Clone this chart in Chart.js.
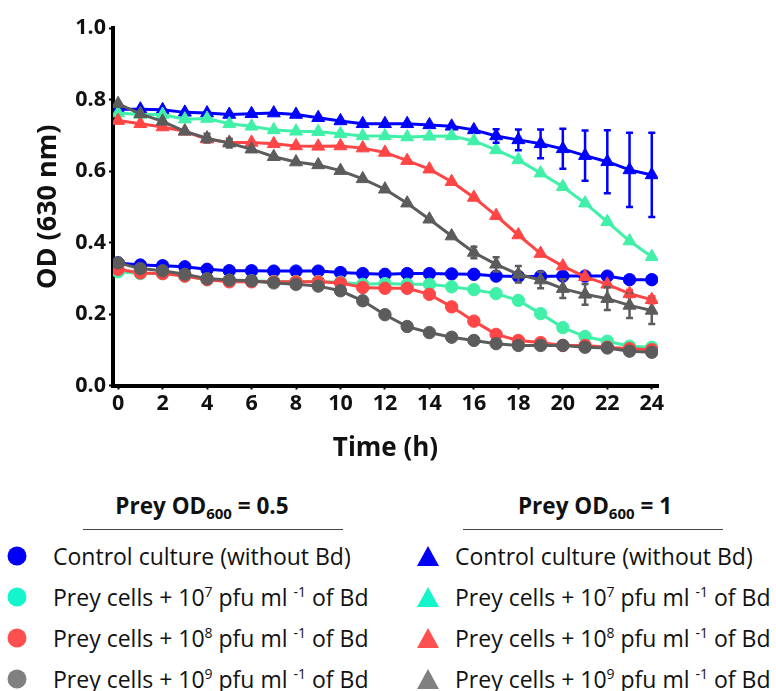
<!DOCTYPE html>
<html>
<head>
<meta charset="utf-8">
<script src="https://cdn.jsdelivr.net/npm/chart.js@4.4.1/dist/chart.umd.min.js"></script>
<style>
  html, body { margin: 0; padding: 0; background: #fff; }
  body { width: 776px; height: 691px; overflow: hidden; position: relative; font-family: "Open Sans", sans-serif; color: #111; }
  #wrap { position: absolute; left: 0; top: 0; width: 776px; height: 470px; }
  .head { position: absolute; font-weight: bold; font-size: 22.5px; white-space: nowrap; transform: translateX(-50%); line-height: 26px; }
  .head sub { font-size: 15px; vertical-align: -5px; line-height: 0; }
  .rule { position: absolute; height: 1px; background: #444; }
  .item { position: absolute; font-size: 23px; white-space: nowrap; line-height: 26px; transform: translateY(-50%); }
  .item sup { font-size: 14px; vertical-align: 9px; line-height: 0; }
  .dot { position: absolute; width: 19px; height: 19px; border-radius: 50%; transform: translate(-50%, -50%); }
  .tri { position: absolute; width: 0; height: 0; border-left: 11.5px solid transparent; border-right: 11.5px solid transparent; border-bottom: 20px solid #000; transform: translate(-50%, -50%); }
</style>
</head>
<body>
<div id="wrap"><canvas id="chart" width="776" height="470"></canvas></div>
<div id="legend"></div>
<script>
// Sampling times (h)
const hours = [0,1,2,3,4,5,6,7,8,9,10,11,12,13,14,15,16,17,18,19,20,21,22,23,24];
const xTicks = [0,2,4,6,8,10,12,14,16,18,20,22,24];
const yTicks = [0.0,0.2,0.4,0.6,0.8,1.0];

// Prey OD600 = 1 (triangles)
const hiControl = [0.773,0.773,0.771,0.764,0.762,0.758,0.760,0.762,0.758,0.749,0.740,0.732,0.732,0.732,0.729,0.725,0.715,0.698,0.687,0.676,0.662,0.643,0.626,0.603,0.589];
const hiControlErr = [0,0,0,0,0,0,0,0,0,0,0,0,0,0,0,0,0,0.019,0.029,0.040,0.056,0.070,0.088,0.104,0.118];
const hiBd7 = [0.762,0.758,0.758,0.745,0.747,0.732,0.725,0.715,0.711,0.710,0.704,0.698,0.698,0.695,0.697,0.698,0.684,0.659,0.631,0.594,0.556,0.510,0.458,0.404,0.360];
const hiBd8 = [0.741,0.732,0.723,0.711,0.689,0.680,0.680,0.676,0.670,0.669,0.670,0.664,0.652,0.629,0.605,0.570,0.526,0.475,0.421,0.369,0.334,0.304,0.283,0.257,0.240];
const hiBd8Err = [0,0,0,0,0,0,0,0,0,0,0,0,0,0,0,0,0,0,0,0,0,0,0,0.010,0.010];
const hiBd9 = [0.788,0.760,0.739,0.711,0.692,0.678,0.661,0.640,0.625,0.617,0.601,0.578,0.549,0.510,0.465,0.418,0.372,0.339,0.311,0.295,0.271,0.255,0.243,0.224,0.210];
const hiBd9Err = [0,0,0,0,0.012,0.012,0,0,0,0,0,0,0,0,0,0,0.016,0.020,0.023,0.023,0.026,0.029,0.032,0.035,0.038];

// Prey OD600 = 0.5 (circles)
const loControl = [0.343,0.337,0.335,0.332,0.325,0.321,0.321,0.320,0.320,0.320,0.316,0.313,0.311,0.313,0.313,0.312,0.311,0.306,0.305,0.305,0.306,0.306,0.306,0.296,0.296];
const loBd7 = [0.318,0.313,0.313,0.306,0.296,0.293,0.293,0.291,0.291,0.291,0.289,0.283,0.285,0.283,0.283,0.276,0.268,0.257,0.238,0.201,0.162,0.137,0.124,0.110,0.107];
const loBd8 = [0.325,0.315,0.313,0.306,0.296,0.290,0.290,0.290,0.290,0.290,0.287,0.274,0.272,0.272,0.255,0.220,0.180,0.143,0.126,0.120,0.112,0.112,0.107,0.103,0.100];
const loBd9 = [0.343,0.327,0.321,0.311,0.299,0.295,0.293,0.287,0.283,0.278,0.265,0.237,0.198,0.165,0.148,0.135,0.126,0.117,0.112,0.112,0.112,0.107,0.105,0.096,0.093];
const loBd9Err = [0,0,0,0,0,0,0,0,0,0,0,0,0,0,0,0,0,0,0,0,0,0,0,0.010,0.012];

// Series colours (plot and key)
const lineColors = ['#0000ff', '#40f0a8', '#ff4545', '#5c5c5c'];
const keyColors  = ['#0000f4', '#14f5cc', '#ff5050', '#808080'];

const seriesNames = ['Control culture (without Bd)', 'Prey cells + 10', 'Prey cells + 10', 'Prey cells + 10'];
const doseExp = ['', '7', '8', '9'];
const groupTitles = ['0.5', '1'];

function series(data, err, color, style, order) {
  return {
    data: hours.map((h, i) => ({ x: h, y: data[i] })),
    errors: err,
    borderColor: color,
    backgroundColor: color,
    borderWidth: 3,
    pointStyle: style,
    pointRadius: style === 'triangle' ? 7.5 : 6.2,
    pointBorderWidth: 1,
    pointBorderColor: color,
    pointBackgroundColor: color,
    tension: 0,
    order: order
  };
}

const datasets = [
  series(hiBd9, hiBd9Err, lineColors[3], 'triangle', 1),
  series(hiBd8, hiBd8Err, lineColors[2], 'triangle', 2),
  series(hiBd7, null, lineColors[1], 'triangle', 3),
  series(hiControl, hiControlErr, lineColors[0], 'triangle', 4),
  series(loBd9, loBd9Err, lineColors[3], 'circle', 5),
  series(loBd8, null, lineColors[2], 'circle', 6),
  series(loBd7, null, lineColors[1], 'circle', 7),
  series(loControl, null, lineColors[0], 'circle', 8)
];

// Vertical error bars with caps
const errorBars = {
  id: 'errorBars',
  afterDatasetsDraw(chart) {
    const ctx = chart.ctx;
    const ys = chart.scales.y;
    chart.data.datasets.forEach((ds, di) => {
      if (!ds.errors) return;
      const meta = chart.getDatasetMeta(di);
      ctx.save();
      ctx.strokeStyle = ds.borderColor;
      ctx.lineWidth = 2.5;
      meta.data.forEach((pt, i) => {
        const e = ds.errors[i];
        if (!e) return;
        const v = ds.data[i].y;
        const yTop = ys.getPixelForValue(v + e);
        const yBot = ys.getPixelForValue(v - e);
        ctx.beginPath();
        ctx.moveTo(pt.x, yTop); ctx.lineTo(pt.x, yBot);
        ctx.moveTo(pt.x - 3.5, yTop); ctx.lineTo(pt.x + 3.5, yTop);
        ctx.moveTo(pt.x - 3.5, yBot); ctx.lineTo(pt.x + 3.5, yBot);
        ctx.stroke();
      });
      ctx.restore();
    });
  }
};

const tickFont = { family: '"Open Sans", sans-serif', size: 21.5, weight: 'bold' };
const titleFont = { family: '"Open Sans", sans-serif', size: 26, weight: 'bold' };

new Chart(document.getElementById('chart'), {
  type: 'line',
  data: { datasets },
  plugins: [errorBars],
  options: {
    responsive: false,
    animation: false,
    layout: { padding: { top: 28, right: 118, left: 0, bottom: 0 } },
    plugins: { legend: { display: false }, tooltip: { enabled: false } },
    scales: {
      x: {
        type: 'linear',
        min: -0.23,
        max: 24.28,
        afterBuildTicks: (s) => { s.ticks = xTicks.map(v => ({ value: v })); },
        afterFit: (s) => { s.height = 84.5; },
        ticks: { font: tickFont, color: '#111', padding: 1, maxRotation: 0, autoSkip: false },
        grid: { drawOnChartArea: false, drawTicks: true, tickLength: 4, tickWidth: 2, tickColor: '#000' },
        border: { display: true, color: '#000', width: 4 },
        title: { display: true, text: 'Time (h)', font: titleFont, color: '#111', padding: { top: 0, bottom: 6 } }
      },
      y: {
        type: 'linear',
        min: 0,
        max: 1.0,
        afterBuildTicks: (s) => { s.ticks = yTicks.map(v => ({ value: v })); },
        afterFit: (s) => { s.width = 113; },
        ticks: { font: tickFont, color: '#111', padding: 3, callback: (v) => v.toFixed(1) },
        grid: { drawOnChartArea: false, drawTicks: true, tickLength: 4, tickWidth: 2, tickColor: '#000' },
        border: { display: true, color: '#000', width: 4 },
        title: { display: true, text: 'OD (630 nm)', font: { family: '"Open Sans", sans-serif', size: 27, weight: 'bold' }, color: '#111', padding: { top: 32, bottom: 0 } }
      }
    }
  }
});

// Key: two groups, circles (OD600 = 0.5) and triangles (OD600 = 1)
const legend = document.getElementById('legend');
const groups = [
  { cx: 202, ruleX: 83, ruleW: 260, markX: 17, textX: 53, shape: 'dot' },
  { cx: 595, ruleX: 463, ruleW: 260, markX: 428, textX: 455, shape: 'tri' }
];
const rowY = [556, 597, 638, 679];

groups.forEach((g, gi) => {
  const h = document.createElement('div');
  h.className = 'head';
  h.style.left = g.cx + 'px';
  h.style.top = '493px';
  h.append('Prey OD');
  const sub = document.createElement('sub'); sub.textContent = '600';
  h.append(sub, ' = ' + groupTitles[gi]);
  legend.appendChild(h);

  const r = document.createElement('div');
  r.className = 'rule';
  r.style.left = g.ruleX + 'px'; r.style.top = '529px'; r.style.width = g.ruleW + 'px';
  legend.appendChild(r);

  rowY.forEach((y, i) => {
    const m = document.createElement('div');
    m.className = g.shape;
    m.style.left = g.markX + 'px'; m.style.top = y + 'px';
    if (g.shape === 'dot') m.style.background = keyColors[i];
    else m.style.borderBottomColor = keyColors[i];
    legend.appendChild(m);

    const t = document.createElement('div');
    t.className = 'item';
    t.style.left = g.textX + 'px'; t.style.top = y + 'px';
    t.append(seriesNames[i]);
    if (doseExp[i]) {
      const s1 = document.createElement('sup'); s1.textContent = doseExp[i];
      const s2 = document.createElement('sup'); s2.textContent = '-1';
      t.append(s1, ' pfu ml ', s2, ' of Bd');
    }
    legend.appendChild(t);
  });
});
</script>
</body>
</html>
